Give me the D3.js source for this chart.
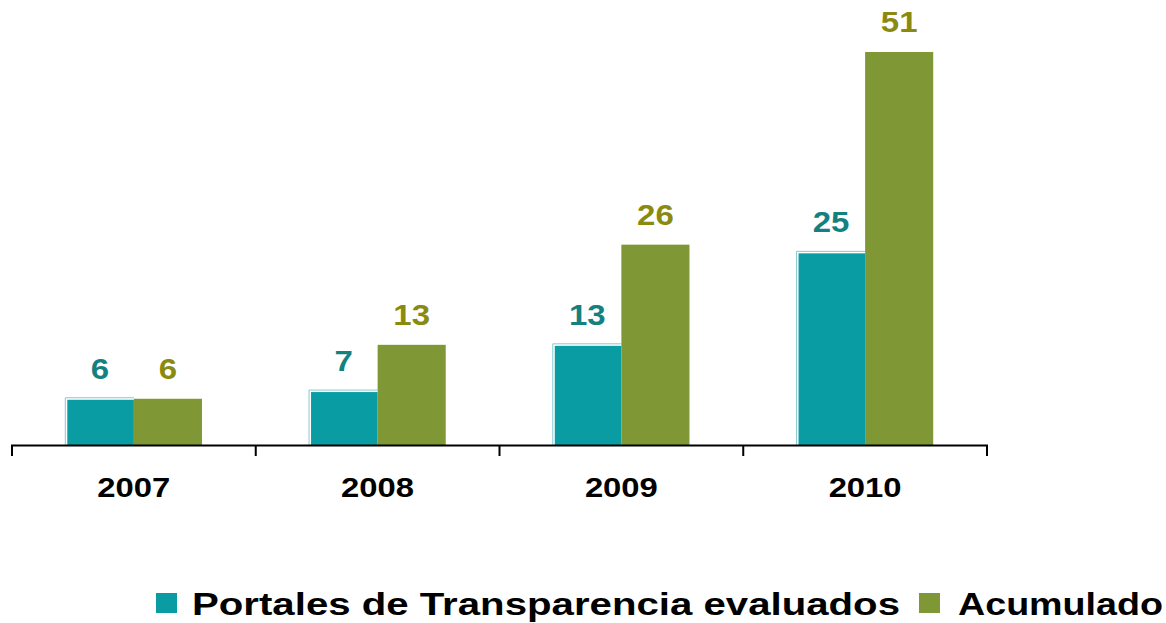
<!DOCTYPE html>
<html><head><meta charset="utf-8">
<script src="https://cdn.jsdelivr.net/npm/d3@7"></script>
<style>body{margin:0;background:#fff}svg{display:block}</style>
</head><body>
<svg id="c" width="1166" height="623"></svg>
<script>
const years = ["2007","2008","2009","2010"];
const evaluados = [6, 7, 13, 25];
const acumulado = [6, 13, 26, 51];
const seriesNames = ["Portales de Transparencia evaluados", "Acumulado"];

const svg = d3.select("#c");
const font = "'Liberation Sans', Arial, sans-serif";
const x = d3.scaleBand().domain(years).range([12, 987]).padding(0);
const inner = d3.scaleBand().domain([0,1]).range([0, x.bandwidth()]).paddingOuter(0.79).paddingInner(0);
const y = d3.scaleLinear().domain([0, 51]).range([445, 52]);

const fills = ["#0A9CA3", "#7F9734"];
const labelColors = ["#13817F", "#8A8A10"];
const data = years.map((yr,i)=>({yr, vals:[evaluados[i], acumulado[i]]}));

const g = svg.append("g");
data.forEach(d=>{
  d.vals.forEach((v,s)=>{
    const bx = x(d.yr) + inner(s);
    const bw = inner.bandwidth();
    if (s===0){
      g.append("path").attr("d", `M${bx-0.5},${y(0)} V${y(v)-1} H${bx+bw}`)
        .attr("fill","none").attr("stroke","#86CACE").attr("stroke-width",1);
      g.append("rect").attr("x", bx+1.5).attr("y", y(v)+1).attr("width", bw-1.5).attr("height", y(0)-y(v)-1).attr("fill", fills[0]);
    } else {
      g.append("rect").attr("x", bx).attr("y", y(v)).attr("width", bw).attr("height", y(0)-y(v)).attr("fill", fills[1]);
    }
    const t = g.append("text").attr("x", bx+bw/2).attr("y", y(v)-20).attr("text-anchor","middle")
      .attr("font-family",font).attr("font-weight","bold").attr("font-size",30)
      .attr("fill", labelColors[s]).text(v);
    const w = t.node().getComputedTextLength();
    t.attr("textLength", w*1.1).attr("lengthAdjust","spacingAndGlyphs");
  });
});

// axis
const axis = d3.axisBottom(x).tickSize(0).tickFormat(d=>d);
const ax = svg.append("g").attr("transform","translate(0,445)").call(axis);
ax.select(".domain").remove();
ax.selectAll("text").attr("font-family",font).attr("font-weight","bold").attr("font-size",28).attr("fill","#000")
  .attr("dy",0).attr("y",52).attr("textLength",73).attr("lengthAdjust","spacingAndGlyphs");
svg.append("line").attr("x1",11).attr("x2",988).attr("y1",445.5).attr("y2",445.5).attr("stroke","#000").attr("stroke-width",2);
const tickPos = years.map(yr=>x(yr)).concat([x.range()[1]]);
svg.selectAll(".tk").data(tickPos).enter().append("line")
  .attr("x1",d=>d).attr("x2",d=>d).attr("y1",445).attr("y2",456).attr("stroke","#000").attr("stroke-width",2);

// legend
const leg = svg.append("g");
const legItems = [{sx:156, tx:192, tw:708}, {sx:919, tx:958, tw:205}];
seriesNames.forEach((n,i)=>{
  leg.append("rect").attr("x",legItems[i].sx).attr("y",593).attr("width",21).attr("height",20).attr("fill",fills[i]);
  leg.append("text").attr("x",legItems[i].tx).attr("y",615).attr("font-family",font).attr("font-weight","bold")
    .attr("font-size",31).attr("fill","#000").attr("textLength",legItems[i].tw).attr("lengthAdjust","spacingAndGlyphs").text(n);
});
</script>
</body></html>
